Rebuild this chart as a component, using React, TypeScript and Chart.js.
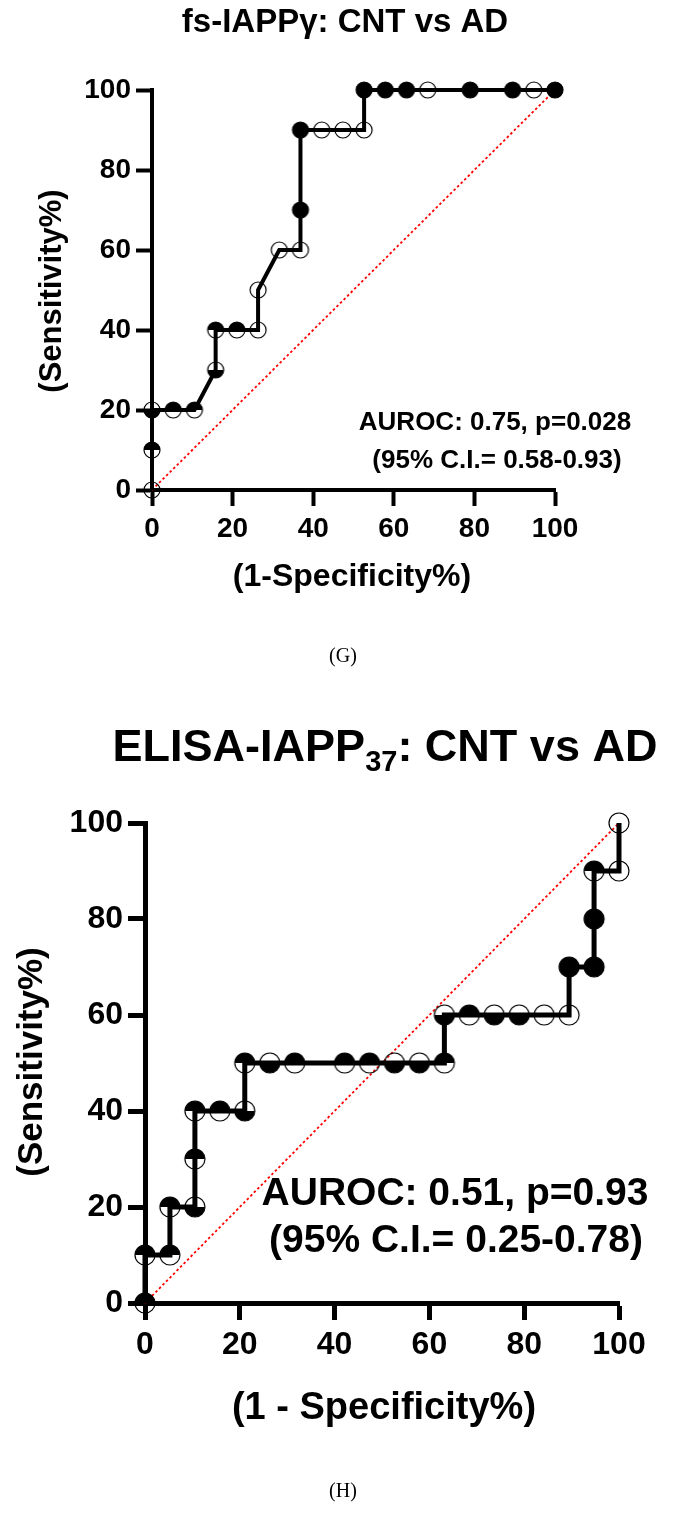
import React, { useEffect, useRef } from 'react';
import { Chart, registerables } from 'chart.js';
Chart.register(...registerables);

// ---- Panel G: fs-IAPPγ ROC ----
const gFpr = [0, 0, 0, 5.26, 10.53, 15.79, 15.79, 21.05, 26.32, 26.32, 31.58, 36.84, 36.84, 36.84, 42.11, 47.37, 52.63, 52.63, 57.89, 63.16, 68.42, 78.95, 89.47, 94.74, 100];
const gTpr = [0, 10, 20, 20, 20, 30, 40, 40, 40, 50, 60, 60, 70, 90, 90, 90, 90, 100, 100, 100, 100, 100, 100, 100, 100];
const gMarks = ['o', 't', 'b', 't', 't', 'b', 't', 't', 'o', 'o', 'o', 'o', 'f', 'f', 'o', 'o', 'o', 'f', 'f', 'f', 'o', 'f', 'f', 'o', 'f'];

// ---- Panel H: ELISA-IAPP37 ROC ----
const hFpr = [0, 0, 5.26, 5.26, 10.53, 10.53, 10.53, 15.79, 21.05, 21.05, 26.32, 31.58, 42.11, 47.37, 52.63, 57.89, 63.16, 63.16, 68.42, 73.68, 78.95, 84.21, 89.47, 89.47, 94.74, 94.74, 94.74, 100, 100];
const hTpr = [0, 10, 10, 20, 20, 30, 40, 40, 40, 50, 50, 50, 50, 50, 50, 50, 50, 60, 60, 60, 60, 60, 60, 70, 70, 80, 90, 90, 100];
const hMarks = ['t', 't', 't', 't', 'b', 't', 't', 't', 'b', 't', 'b', 't', 't', 't', 'b', 'b', 't', 'b', 't', 'b', 'b', 'o', 'o', 'f', 'f', 'f', 't', 'o', 'o'];

const refX = [0, 100];
const refY = [0, 100];
const axisTicks = [0, 20, 40, 60, 80, 100];

const FONT = '"Liberation Sans", Arial, Helvetica, sans-serif';

function makeMarker(kind: string, r: number, lw: number) {
  const s = Math.ceil(2 * r + lw + 2);
  const c = document.createElement('canvas');
  c.width = s;
  c.height = s;
  const ctx = c.getContext('2d')!;
  const cx = s / 2, cy = s / 2;
  ctx.fillStyle = '#000';
  if (kind === 'f') {
    ctx.beginPath(); ctx.arc(cx, cy, r, 0, 2 * Math.PI); ctx.fill();
  } else if (kind === 't') {
    ctx.beginPath(); ctx.arc(cx, cy, r, Math.PI, 2 * Math.PI); ctx.closePath(); ctx.fill();
  } else if (kind === 'b') {
    ctx.beginPath(); ctx.arc(cx, cy, r, 0, Math.PI); ctx.closePath(); ctx.fill();
  }
  ctx.strokeStyle = '#000';
  ctx.lineWidth = lw;
  ctx.beginPath(); ctx.arc(cx, cy, r, 0, 2 * Math.PI); ctx.stroke();
  return c;
}

type TextSpec = {
  title: (ctx: CanvasRenderingContext2D) => void;
  xTitle: { text: string; x: number; y: number; size: number };
  yTitle: { text: string; x: number; y: number; size: number };
  annot: { lines: string[]; x: number[]; y: number[]; size: number };
  panel: { text: string; x: number; y: number };
};

type Spec = {
  fpr: number[]; tpr: number[]; marks: string[];
  left: number; right: number; top: number; bottom: number;
  width: number; height: number;
  yW: number; xH: number;
  lineW: number; axisW: number; tickLen: number; tickFont: number; r: number;
  texts: TextSpec;
};

function buildConfig(sp: Spec): any {
  const markerCache: Record<string, HTMLCanvasElement> = {};
  const styles = sp.marks.map((m) => {
    if (!markerCache[m]) markerCache[m] = makeMarker(m, sp.r, 1.2);
    return markerCache[m];
  });
  const textPlugin = {
    id: 'texts',
    afterDraw(chart: any) {
      const ctx: CanvasRenderingContext2D = chart.ctx;
      const t = sp.texts;
      ctx.save();
      ctx.fillStyle = '#000';
      t.title(ctx);
      ctx.textAlign = 'center';
      ctx.textBaseline = 'middle';
      ctx.font = `bold ${t.xTitle.size}px ${FONT}`;
      ctx.fillText(t.xTitle.text, t.xTitle.x, t.xTitle.y);
      ctx.save();
      ctx.translate(t.yTitle.x, t.yTitle.y);
      ctx.rotate(-Math.PI / 2);
      ctx.font = `bold ${t.yTitle.size}px ${FONT}`;
      ctx.fillText(t.yTitle.text, 0, 0);
      ctx.restore();
      ctx.font = `bold ${t.annot.size}px ${FONT}`;
      t.annot.lines.forEach((l, i) => ctx.fillText(l, t.annot.x[i], t.annot.y[i]));
      ctx.font = `20px "Liberation Serif", "Times New Roman", serif`;
      ctx.fillText(t.panel.text, t.panel.x, t.panel.y);
      ctx.restore();
    },
  };
  const tickSet = (s: any) => { s.ticks = axisTicks.map((v) => ({ value: v })); };
  return {
    type: 'line',
    data: {
      datasets: [
        {
          label: 'ROC',
          data: sp.fpr.map((x, i) => ({ x, y: sp.tpr[i] })),
          borderColor: '#000',
          borderWidth: sp.lineW,
          pointStyle: styles,
          pointRadius: sp.r,
          fill: false,
          tension: 0,
          clip: false,
          order: 1,
        },
        {
          label: 'Reference',
          data: refX.map((x, i) => ({ x, y: refY[i] })),
          borderColor: '#ff0000',
          borderWidth: 1.8,
          borderDash: [2.5, 2.5],
          pointRadius: 0,
          fill: false,
          clip: false,
          order: 2,
        },
      ],
    },
    options: {
      responsive: false,
      animation: false,
      events: [],
      layout: {
        padding: { left: sp.left - sp.yW, top: sp.top, right: sp.width - sp.right, bottom: sp.height - sp.bottom - sp.xH },
      },
      plugins: { legend: { display: false }, tooltip: { enabled: false }, title: { display: false } },
      scales: {
        x: {
          type: 'linear',
          min: 0,
          max: 100,
          afterBuildTicks: tickSet,
          afterFit: (s: any) => { s.height = sp.xH; },
          grid: { drawOnChartArea: false, drawTicks: true, tickLength: sp.tickLen, tickWidth: sp.axisW, tickColor: '#000' },
          border: { display: true, color: '#000', width: sp.axisW },
          ticks: { color: '#000', padding: 6, font: { family: FONT, size: sp.tickFont, weight: 'bold' }, maxRotation: 0, autoSkip: false },
        },
        y: {
          type: 'linear',
          min: 0,
          max: 100,
          afterBuildTicks: tickSet,
          afterFit: (s: any) => { s.width = sp.yW; },
          grid: { drawOnChartArea: false, drawTicks: true, tickLength: sp.tickLen, tickWidth: sp.axisW, tickColor: '#000' },
          border: { display: true, color: '#000', width: sp.axisW },
          ticks: { color: '#000', padding: 5, font: { family: FONT, size: sp.tickFont, weight: 'bold' }, autoSkip: false },
        },
      },
    },
    plugins: [textPlugin],
  };
}

const specG: Spec = {
  fpr: gFpr, tpr: gTpr, marks: gMarks,
  left: 152, right: 555, top: 90, bottom: 490,
  width: 687, height: 700, yW: 152, xH: 60,
  lineW: 4, axisW: 4, tickLen: 16, tickFont: 28, r: 8,
  texts: {
    title: (ctx) => {
      ctx.textAlign = 'center';
      ctx.textBaseline = 'middle';
      ctx.font = `bold 33px ${FONT}`;
      ctx.fillText('fs-IAPPγ: CNT vs AD', 345, 23);
    },
    xTitle: { text: '(1-Specificity%)', x: 352, y: 577, size: 32 },
    yTitle: { text: '(Sensitivity%)', x: 52, y: 291, size: 31 },
    annot: { lines: ['AUROC: 0.75, p=0.028', '(95% C.I.= 0.58-0.93)'], x: [495, 497], y: [423, 461], size: 26 },
    panel: { text: '(G)', x: 343, y: 657 },
  },
};

const specH: Spec = {
  fpr: hFpr, tpr: hTpr, marks: hMarks,
  left: 145, right: 619, top: 123, bottom: 603,
  width: 687, height: 814, yW: 145, xH: 70,
  lineW: 5, axisW: 5, tickLen: 17, tickFont: 32, r: 10,
  texts: {
    title: (ctx) => {
      ctx.textBaseline = 'alphabetic';
      ctx.textAlign = 'left';
      const big = `bold 45px ${FONT}`;
      const sub = `bold 29px ${FONT}`;
      const a = 'ELISA-IAPP', s = '37', b = ': CNT vs AD';
      ctx.font = big; const wa = ctx.measureText(a).width; const wb = ctx.measureText(b).width;
      ctx.font = sub; const ws = ctx.measureText(s).width;
      const total = wa + ws + wb;
      let x = 385 - total / 2;
      const base = 61;
      ctx.font = big; ctx.fillText(a, x, base); x += wa;
      ctx.font = sub; ctx.fillText(s, x, base + 10); x += ws;
      ctx.font = big; ctx.fillText(b, x, base);
    },
    xTitle: { text: '(1 - Specificity%)', x: 384, y: 709, size: 38 },
    yTitle: { text: '(Sensitivity%)', x: 32, y: 362, size: 35 },
    annot: { lines: ['AUROC: 0.51, p=0.93', '(95% C.I.= 0.25-0.78)'], x: [455, 456], y: [494, 541], size: 39 },
    panel: { text: '(H)', x: 343, y: 792 },
  },
};

function RocPanel({ spec, top }: { spec: Spec; top: number }) {
  const ref = useRef<HTMLCanvasElement>(null);
  useEffect(() => {
    const chart = new Chart(ref.current!, buildConfig(spec));
    return () => chart.destroy();
  }, [spec]);
  return (
    <canvas
      ref={ref}
      width={spec.width}
      height={spec.height}
      style={{ position: 'absolute', left: 0, top, width: spec.width, height: spec.height }}
    />
  );
}

export default function App() {
  return (
    <div style={{ position: 'absolute', left: 0, top: 0, width: 687, height: 1514, background: '#fff', overflow: 'hidden' }}>
      <RocPanel spec={specG} top={0} />
      <RocPanel spec={specH} top={700} />
    </div>
  );
}
